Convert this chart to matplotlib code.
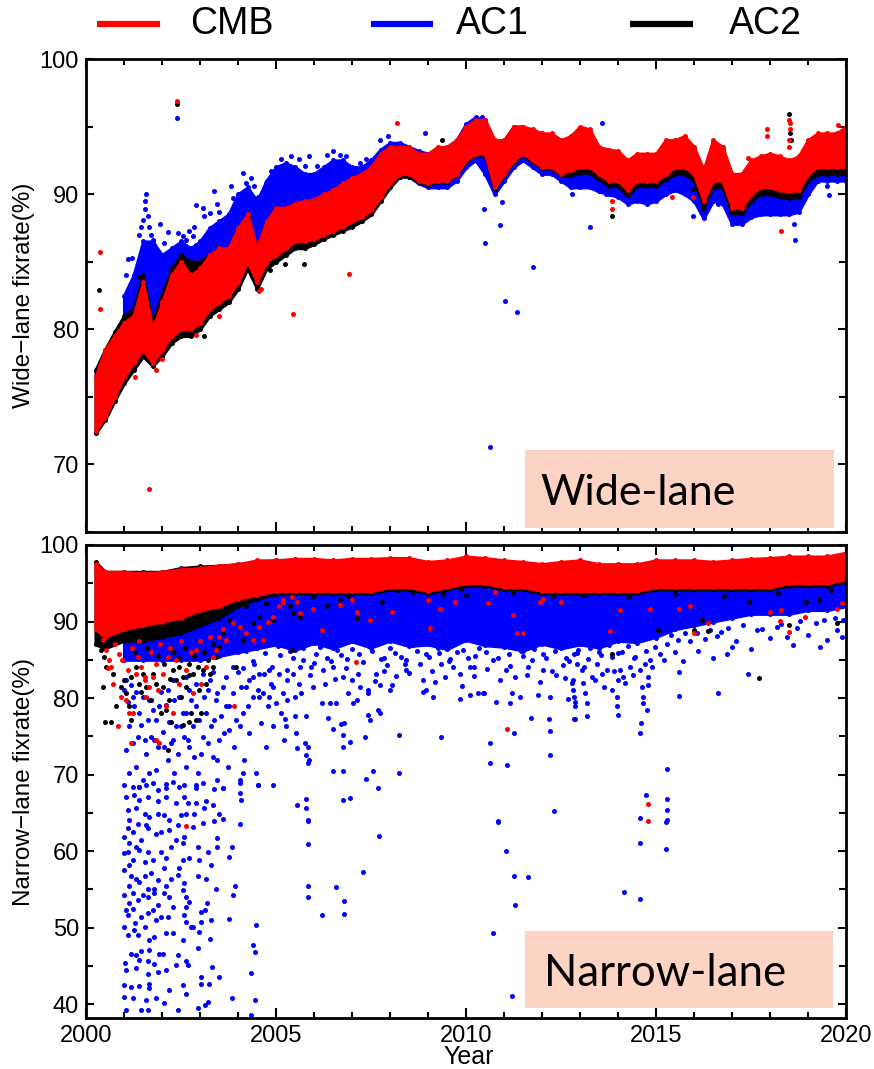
import matplotlib
matplotlib.use("Agg")
import matplotlib.pyplot as plt
from matplotlib.lines import Line2D
from matplotlib.patches import Rectangle
from matplotlib.ticker import MultipleLocator

plt.rcParams['font.family'] = ['Liberation Sans', 'DejaVu Sans']

# ---------------- legend / series ----------------
series_names = ['CMB', 'AC1', 'AC2']
series_colors = ['#ff0000', '#0000ff', '#000000']

# ---------------- Wide-lane: quarterly envelopes of the dense point clouds ----------------
wl_years = [2000.25, 2000.5, 2000.75, 2001.0, 2001.25, 2001.5, 2001.75, 2002.0,
            2002.25, 2002.5, 2002.75, 2003.0, 2003.25, 2003.5, 2003.75, 2004.0,
            2004.25, 2004.5, 2004.75, 2005.0, 2005.25, 2005.5, 2005.75, 2006.0,
            2006.25, 2006.5, 2006.75, 2007.0, 2007.25, 2007.5, 2007.75, 2008.0,
            2008.25, 2008.5, 2008.75, 2009.0, 2009.25, 2009.5, 2009.75, 2010.0,
            2010.25, 2010.5, 2010.75, 2011.0, 2011.25, 2011.5, 2011.75, 2012.0,
            2012.25, 2012.5, 2012.75, 2013.0, 2013.25, 2013.5, 2013.75, 2014.0,
            2014.25, 2014.5, 2014.75, 2015.0, 2015.25, 2015.5, 2015.75, 2016.0,
            2016.25, 2016.5, 2016.75, 2017.0, 2017.25, 2017.5, 2017.75, 2018.0,
            2018.25, 2018.5, 2018.75, 2019.0, 2019.25, 2019.5, 2019.75, 2020.0]

wl_cmb_lo = [72.5, 73.5, 75.0, 76.5, 77.5, 78.5, 77.5, 78.5, 79.5, 80.0, 80.0, 80.5,
             81.5, 82.0, 82.5, 83.5, 85.0, 83.5, 85.0, 85.5, 86.0, 86.5, 86.5, 86.7,
             87.0, 87.3, 87.6, 88.0, 88.3, 88.8, 89.8, 90.8, 91.5, 91.5, 91.0, 90.8,
             91.0, 91.0, 91.5, 92.5, 93.0, 93.0, 90.5, 91.5, 92.5, 93.0, 92.5, 92.0,
             92.0, 91.5, 91.8, 92.0, 92.0, 91.5, 91.0, 91.0, 90.3, 91.0, 91.0, 91.0,
             91.5, 92.0, 92.0, 91.5, 89.5, 91.0, 91.0, 89.0, 89.0, 90.0, 90.5, 90.5,
             90.3, 90.2, 90.3, 91.5, 92.0, 92.0, 92.0, 92.0]
wl_cmb_hi = [76.5, 78.5, 79.5, 80.5, 81.0, 83.5, 80.0, 82.0, 84.0, 85.0, 84.0, 84.5,
             85.5, 86.0, 86.0, 87.5, 88.5, 86.0, 88.0, 89.0, 89.0, 89.3, 89.5, 89.6,
             90.0, 90.3, 90.8, 91.2, 91.5, 92.0, 93.0, 93.5, 93.5, 93.5, 93.0, 93.0,
             93.5, 93.5, 94.0, 95.0, 95.5, 95.5, 94.0, 94.0, 95.0, 95.0, 94.8, 94.5,
             94.5, 94.0, 94.3, 95.0, 94.8, 93.5, 93.3, 93.2, 92.5, 93.0, 93.0, 93.0,
             94.0, 94.0, 94.3, 93.5, 91.8, 94.0, 93.5, 91.5, 91.5, 92.5, 92.8, 93.0,
             92.8, 92.5, 92.8, 94.0, 94.5, 94.5, 94.5, 95.0]

wl_ac2_lo = [72.3, 73.3, 74.7, 76.0, 77.0, 78.0, 77.3, 78.0, 79.0, 79.5, 79.5, 80.0,
             81.0, 81.5, 82.0, 83.0, 84.5, 83.0, 84.5, 85.0, 85.5, 86.0, 86.0, 86.3,
             86.7, 87.0, 87.3, 87.6, 88.0, 88.5, 89.5, 90.5, 91.3, 91.3, 90.9, 90.7,
             90.9, 90.9, 91.4, 92.4, 92.9, 92.8, 90.4, 91.4, 92.4, 92.9, 92.4, 91.9,
             91.9, 91.4, 91.4, 91.6, 91.6, 91.1, 90.6, 90.6, 89.9, 90.6, 90.6, 90.6,
             91.1, 91.5, 91.5, 91.0, 89.1, 90.5, 90.5, 88.6, 88.6, 89.5, 90.0, 90.0,
             89.8, 89.7, 89.8, 91.0, 91.5, 91.5, 91.5, 91.5]
wl_ac2_hi = [77.0, 78.5, 79.8, 81.0, 81.5, 84.0, 80.5, 82.5, 84.5, 85.5, 85.0, 85.0,
             85.5, 86.0, 86.0, 87.5, 88.3, 86.0, 88.0, 88.7, 88.8, 89.0, 89.3, 89.4,
             89.8, 90.1, 90.6, 91.0, 91.3, 91.8, 92.8, 93.3, 93.3, 93.3, 92.8, 92.8,
             93.3, 93.3, 93.8, 94.8, 95.3, 95.3, 93.8, 93.8, 94.8, 94.8, 94.6, 94.3,
             94.3, 93.8, 94.1, 94.8, 94.6, 93.3, 93.1, 93.0, 92.3, 92.8, 92.8, 92.8,
             93.8, 93.8, 94.1, 93.3, 91.6, 93.8, 93.3, 91.3, 91.3, 92.3, 92.6, 92.8,
             92.6, 92.3, 92.6, 93.8, 94.3, 94.3, 94.3, 94.8]

# AC1 starts in 2001 (wl_years[3:])
wl_ac1_lo = [77.0, 78.0, 80.0, 79.5, 80.0, 81.0, 82.0, 82.5, 83.0,
             83.5, 84.0, 85.0, 86.0, 86.0, 85.0, 86.0, 87.0, 87.0, 87.5, 88.0, 88.0,
             88.5, 88.5, 89.0, 89.0, 89.0, 90.0, 90.5, 91.0, 91.3, 91.3, 90.8, 90.5,
             90.5, 90.5, 91.0, 92.0, 92.5, 91.5, 90.0, 91.0, 92.0, 92.5, 92.0, 91.5,
             91.5, 91.0, 90.5, 90.5, 90.5, 90.2, 90.0, 89.8, 89.3, 89.5, 89.3, 89.5,
             90.0, 90.3, 90.0, 89.5, 88.2, 89.5, 89.3, 87.8, 87.8, 88.3, 88.5, 88.5,
             88.5, 88.5, 88.7, 90.0, 91.0, 91.0, 91.0, 91.0]
wl_ac1_hi = [82.5, 84.0, 86.5, 86.5, 85.5, 86.0, 86.5, 86.0, 86.5,
             87.5, 88.0, 88.5, 90.0, 90.5, 89.5, 91.0, 92.0, 92.3, 92.0, 91.5, 91.5,
             92.0, 92.5, 92.5, 92.0, 92.0, 92.5, 93.3, 93.8, 93.8, 93.5, 93.2, 93.0,
             93.3, 93.5, 94.0, 95.2, 95.7, 95.5, 93.5, 94.0, 95.0, 95.0, 94.5, 94.2,
             94.2, 93.8, 93.8, 94.5, 94.0, 93.0, 92.8, 92.8, 92.0, 92.5, 92.5, 92.5,
             93.5, 93.5, 93.5, 93.0, 91.0, 93.5, 93.0, 91.0, 91.5, 92.0, 92.0, 92.2,
             92.0, 92.0, 92.0, 93.0, 93.5, 93.5, 93.5, 94.0]

# Wide-lane isolated points (year, %)
wl_cmb_pts = [(2000.37, 85.7), (2000.37, 81.5), (2001.66, 68.2), (2002.39, 96.9),
              (2005.45, 81.1), (2006.92, 84.1), (2008.18, 95.3), (2013.84, 89.5),
              (2013.84, 88.9), (2015.42, 89.8), (2015.97, 89.8), (2018.29, 87.3),
              (2017.92, 94.8), (2017.92, 94.3), (2017.42, 92.7), (2019.79, 95.1),
              (2018.49, 95.5), (2018.52, 95.3), (2018.52, 94.8), (2018.51, 94.0),
              (2018.49, 93.5), (2003.5, 81.0), (2004.55, 82.8), (2001.3, 76.5),
              (2002.0, 77.8), (2002.9, 79.6), (2004.6, 83.0), (2001.85, 77.0)]
wl_ac2_pts = [(2000.34, 82.9), (2002.39, 96.7), (2005.24, 84.8), (2005.74, 84.8),
              (2009.37, 94.0), (2013.84, 88.4), (2015.97, 90.4), (2016.24, 88.9),
              (2018.49, 95.9), (2018.52, 94.5), (2018.55, 94.0), (2003.1, 79.5),
              (2001.4, 83.9), (2003.05, 84.0), (2003.55, 85.3), (2004.85, 84.4)]
wl_ac1_pts = [(2002.39, 95.6), (2010.47, 88.9), (2010.50, 86.4), (2010.89, 87.7),
              (2010.95, 89.4), (2011.03, 82.1), (2011.34, 81.3), (2011.76, 84.6),
              (2010.63, 71.3), (2013.26, 87.6), (2018.66, 86.6), (2018.64, 87.8),
              (2013.58, 95.3), (2012.80, 90.0), (2013.68, 90.0), (2014.29, 89.4),
              (2015.97, 88.4), (2016.63, 89.3), (2019.55, 89.9), (2019.50, 90.6),
              (2001.24, 81.7), (2001.05, 84.0), (2001.20, 85.3),
              (2001.58, 90.0), (2001.56, 89.5), (2001.54, 88.9), (2001.51, 88.1),
              (2001.45, 87.6), (2001.40, 87.0), (2001.62, 88.4), (2001.67, 87.6),
              (2001.71, 87.0), (2001.75, 86.6), (2001.80, 86.2), (2001.89, 85.4),
              (2001.10, 85.2), (2001.32, 84.3), (2001.27, 83.7), (2002.41, 87.1),
              (2002.54, 86.9), (2002.63, 86.6), (2002.72, 87.3), (2002.81, 86.9),
              (2002.50, 86.2), (2002.85, 87.6), (2002.89, 86.2), (2002.32, 85.7),
              (2002.89, 89.2), (2003.07, 89.0), (2003.11, 88.4), (2003.25, 88.6),
              (2003.38, 90.2), (2003.46, 89.3), (2003.51, 88.7), (2003.60, 88.1),
              (2003.68, 87.6), (2003.82, 90.6), (2003.86, 89.7), (2003.90, 89.1),
              (2003.95, 88.1), (2003.99, 87.4), (2003.73, 87.0), (2004.12, 91.6),
              (2004.21, 90.8), (2004.34, 91.2), (2004.43, 90.6), (2004.52, 89.8),
              (2004.56, 89.6), (2004.74, 90.8), (2004.87, 91.7), (2005.13, 92.6),
              (2005.39, 92.8), (2005.61, 92.6), (2005.75, 92.1), (2005.88, 92.8),
              (2006.07, 92.1), (2006.33, 92.9), (2006.50, 93.2), (2006.68, 92.9),
              (2006.85, 92.8), (2007.21, 92.3), (2007.38, 92.6), (2007.73, 94.0),
              (2007.95, 94.3), (2008.92, 94.5), (2010.41, 95.7), (2001.95, 87.8),
              (2002.05, 86.4), (2002.15, 87.2)]

# ---------------- Narrow-lane: half-year envelopes of the dense clouds ----------------
nl_years = [2000.25, 2000.5, 2001.0, 2001.5, 2002.0, 2002.5, 2003.0, 2003.5,
            2004.0, 2004.5, 2005.0, 2005.5, 2006.0, 2006.5, 2007.0, 2007.5,
            2008.0, 2008.5, 2009.0, 2009.5, 2010.0, 2010.5, 2011.0, 2011.5,
            2012.0, 2012.5, 2013.0, 2013.5, 2014.0, 2014.5, 2015.0, 2015.5,
            2016.0, 2016.5, 2017.0, 2017.5, 2018.0, 2018.5, 2019.0, 2019.5, 2020.0]

nl_cmb_lo = [89.0, 88.0, 89.0, 89.5, 90.0, 90.5, 91.5, 92.0, 93.0, 93.5, 94.0, 94.0,
             94.0, 94.0, 94.0, 94.0, 94.5, 94.5, 94.0, 94.5, 95.0, 95.0, 94.5, 94.5,
             94.0, 94.0, 94.0, 94.0, 94.0, 94.0, 94.5, 94.5, 94.5, 94.5, 94.5, 94.5,
             94.5, 95.0, 95.0, 95.0, 95.5]
nl_cmb_hi = [97.5, 96.5, 96.5, 96.3, 96.5, 96.8, 97.0, 97.3, 97.5, 98.0, 98.0, 98.2,
             98.2, 98.0, 98.2, 98.2, 98.3, 98.3, 97.8, 98.0, 98.5, 98.3, 98.0, 97.8,
             97.5, 97.8, 98.0, 97.5, 97.5, 97.5, 98.0, 98.0, 98.0, 97.8, 98.0, 98.2,
             98.3, 98.5, 98.5, 98.5, 99.0]
nl_ac2_lo = [87.0, 86.5, 87.5, 87.5, 88.0, 88.5, 89.5, 90.5, 92.0, 93.0, 93.6, 93.7,
             93.7, 93.7, 93.7, 93.7, 94.2, 94.2, 93.7, 94.2, 94.7, 94.7, 94.2, 94.2,
             93.7, 93.7, 93.7, 93.7, 93.7, 93.7, 94.2, 94.2, 94.2, 94.2, 94.2, 94.2,
             94.2, 94.7, 94.7, 94.7, 95.2]
nl_ac2_hi = [97.8, 96.5, 96.5, 96.5, 96.5, 97.0, 97.2, 97.3, 97.5, 97.8, 98.0, 98.0,
             98.0, 97.8, 98.0, 98.0, 98.2, 98.2, 97.7, 97.9, 98.3, 98.2, 97.9, 97.7,
             97.4, 97.7, 97.9, 97.4, 97.4, 97.4, 97.9, 97.9, 97.9, 97.7, 97.9, 98.1,
             98.2, 98.4, 98.4, 98.4, 98.8]
# AC1 starts in 2001 (nl_years[2:])
nl_ac1_lo = [85.0, 85.0, 85.0, 85.0, 85.0, 85.5, 86.0, 86.5, 87.0, 86.3,
             87.2, 86.5, 87.4, 86.6, 87.5, 86.8, 87.0, 86.4, 87.6, 86.9, 86.7, 86.2,
             87.1, 86.5, 87.0, 86.6, 87.5, 87.3, 88.0, 89.0, 89.5, 90.0, 90.5, 91.0,
             91.0, 91.0, 91.5, 91.5, 92.0]
nl_ac1_hi = [91.0, 91.0, 92.0, 92.5, 93.0, 93.5, 94.0, 94.0, 94.5, 94.5,
             94.5, 94.5, 94.5, 94.5, 94.5, 94.5, 94.5, 94.5, 94.5, 94.5, 94.5, 94.5,
             94.5, 94.5, 94.5, 95.0, 95.0, 95.0, 95.0, 95.0, 95.0, 95.0, 95.5, 95.5,
             95.5, 96.0, 96.0, 96.0, 96.5]

# Narrow-lane scattered AC1 points (year, %)
nl_ac1_pts_low = [
    (2001.01, 68.6), (2001.23, 68.4), (2001.40, 68.4), (2001.58, 68.6), (2001.75, 68.9),
    (2001.89, 68.0), (2002.11, 68.2), (2002.28, 69.1), (2002.59, 68.6), (2002.89, 68.6),
    (2003.07, 68.9), (2003.38, 68.1), (2003.60, 68.2), (2004.04, 68.9), (2004.52, 68.6),
    (2004.91, 68.6), (2001.05, 67.1), (2001.27, 67.3), (2001.40, 66.7), (2001.62, 67.1),
    (2001.89, 66.5), (2002.11, 67.1), (2002.37, 66.3), (2002.59, 67.1), (2002.68, 66.3),
    (2002.89, 66.3), (2003.16, 66.5), (2003.33, 66.0), (2004.08, 66.7), (2004.05, 67.6),
    (2001.10, 65.4), (2001.32, 65.6), (2001.54, 64.9), (2001.67, 64.5), (2001.89, 64.9),
    (2002.06, 64.7), (2002.19, 64.1), (2002.50, 64.7), (2002.63, 64.9), (2002.85, 64.9),
    (2003.11, 65.6), (2003.51, 64.9), (2003.60, 64.2), (2003.38, 63.9), (2003.07, 63.7),
    (2004.06, 63.6), (2002.41, 63.4), (2002.81, 63.2), (2001.14, 64.1), (2001.36, 63.6),
    (2001.58, 63.4), (2001.01, 61.9), (2001.10, 63.0), (2001.23, 62.5), (2001.45, 61.5),
    (2001.62, 63.0), (2001.84, 62.3), (2001.97, 62.5), (2002.19, 62.8), (2002.37, 61.5),
    (2002.59, 61.9), (2002.54, 61.0), (2002.94, 60.6), (2003.20, 59.9), (2003.46, 61.7),
    (2003.46, 60.6), (2003.84, 60.6), (2001.14, 61.0), (2001.32, 60.6), (2001.01, 59.7),
    (2001.10, 59.9), (2001.23, 58.8), (2001.40, 60.1), (2001.62, 59.9), (2001.75, 58.8),
    (2001.97, 59.9), (2002.11, 59.1), (2002.24, 60.6), (2002.54, 58.8), (2002.72, 59.1),
    (2002.98, 58.8), (2003.29, 58.2), (2003.77, 59.2), (2001.14, 58.2), (2001.54, 58.6),
    (2002.06, 57.8), (2002.46, 57.8), (2001.01, 57.5), (2001.18, 56.7), (2001.32, 56.4),
    (2001.54, 56.7), (2001.71, 57.1), (2001.89, 56.2), (2002.11, 55.4), (2002.24, 56.4),
    (2002.41, 56.9), (2002.59, 55.8), (2002.94, 56.7), (2003.16, 56.4), (2003.42, 55.1),
    (2003.92, 55.4), (2001.14, 55.4), (2001.40, 56.0), (2001.62, 55.1), (2001.80, 55.1),
    (2001.01, 54.3), (2001.23, 54.5), (2001.49, 54.3), (2001.62, 54.0), (2001.80, 54.5),
    (2002.06, 54.5), (2002.19, 54.0), (2002.54, 54.9), (2002.63, 54.0), (2002.72, 53.4),
    (2003.18, 53.2), (2003.86, 54.3), (2001.14, 53.2), (2001.36, 53.6), (2001.89, 53.0),
    (2002.63, 52.7), (2001.05, 52.3), (2001.23, 52.5), (2001.45, 51.4), (2001.62, 51.9),
    (2001.75, 52.3), (2001.97, 51.4), (2002.15, 51.4), (2002.28, 52.7), (2002.59, 51.7),
    (2003.03, 52.1), (2003.14, 52.3), (2003.29, 51.0), (2003.75, 51.2), (2001.10, 51.7),
    (2001.30, 50.6), (2001.84, 51.0), (2002.76, 50.1), (2002.63, 50.8), (2003.03, 50.8),
    (2001.01, 50.1), (2001.10, 49.0), (2001.27, 49.7), (2001.36, 49.0), (2001.54, 50.1),
    (2001.67, 48.4), (2001.80, 48.8), (2002.11, 49.3), (2002.28, 49.3), (2002.54, 48.4),
    (2002.81, 50.1), (2004.39, 47.7), (2004.47, 50.4), (2003.25, 48.5), (2002.98, 49.5),
    (2001.18, 46.6), (2001.32, 46.4), (2001.45, 46.9), (2001.67, 47.1), (2001.93, 46.6),
    (2002.02, 46.6), (2002.41, 46.4), (2002.63, 45.6), (2002.94, 47.3), (2001.03, 45.4),
    (2001.40, 45.8), (2001.62, 45.6), (2001.80, 45.3), (2002.68, 45.1), (2003.32, 44.9),
    (2004.46, 46.8), (2001.05, 44.5), (2001.32, 44.7), (2001.62, 44.0), (2001.89, 44.2),
    (2002.11, 44.5), (2002.37, 45.1), (2003.03, 43.6), (2003.51, 43.6), (2000.99, 42.5),
    (2001.18, 42.3), (2001.40, 42.4), (2001.67, 42.7), (2002.54, 42.5), (2003.03, 42.7),
    (2003.23, 42.7), (2004.34, 44.1), (2001.67, 42.1), (2002.19, 41.8), (2002.63, 41.4),
    (2001.01, 40.9), (2001.23, 40.8), (2001.58, 40.6), (2001.84, 40.8), (2002.04, 40.1),
    (2003.20, 40.3), (2003.84, 40.8), (2004.46, 40.5), (2001.04, 39.2), (2001.45, 39.2),
    (2001.62, 39.2), (2002.41, 39.2), (2002.94, 39.5), (2003.14, 39.9), (2004.34, 38.6)]

nl_ac1_pts_mid = [
    (2001.10, 79.5), (2001.14, 76.3), (2001.23, 80.2), (2001.32, 80.8), (2001.40, 78.0),
    (2001.45, 76.5), (2001.54, 74.5), (2001.58, 72.7), (2001.71, 74.9), (2001.75, 78.4),
    (2001.84, 77.1), (2001.89, 73.6), (2002.02, 75.6), (2002.11, 79.1), (2002.15, 71.9),
    (2002.19, 76.9), (2002.24, 74.1), (2002.32, 70.2), (2002.37, 76.3), (2002.41, 72.7),
    (2002.46, 80.2), (2002.54, 78.0), (2002.59, 74.9), (2002.63, 71.0), (2002.72, 81.0),
    (2002.72, 73.6), (2002.81, 76.3), (2002.89, 78.9), (2002.94, 70.2), (2003.03, 72.7),
    (2003.07, 74.9), (2003.16, 78.0), (2003.20, 81.0), (2003.25, 82.3), (2003.29, 76.3),
    (2003.33, 72.3), (2003.42, 79.7), (2003.46, 69.3), (2003.51, 74.5), (2003.55, 77.6),
    (2003.60, 81.5), (2003.68, 78.9), (2003.73, 71.0), (2003.77, 75.8), (2003.86, 80.6),
    (2003.90, 73.6), (2003.99, 83.4), (2004.04, 76.3), (2004.12, 78.0), (2004.17, 71.9),
    (2004.21, 81.5), (2004.30, 75.4), (2004.39, 80.2), (2004.47, 70.2), (2004.56, 83.2),
    (2004.61, 76.7), (2004.65, 80.6), (2004.74, 73.6), (2004.78, 78.9), (2004.87, 81.9),
    (2004.91, 76.3), (2005.00, 79.3), (2005.09, 83.2), (2005.18, 80.6), (2005.22, 74.5),
    (2001.05, 73.2), (2001.14, 70.2), (2001.32, 71.0), (2001.49, 69.3), (2001.67, 70.2),
    (2001.84, 70.6), (2001.40, 68.4), (2002.11, 68.8), (2002.46, 68.4), (2002.89, 68.2),
    (2003.46, 71.9), (2003.60, 68.2), (2004.04, 69.3), (2004.52, 68.6), (2004.12, 70.2),
    (2001.23, 74.1), (2001.97, 80.8), (2002.28, 82.3), (2002.63, 82.8), (2003.07, 83.2),
    (2003.68, 82.8), (2003.33, 83.4), (2002.89, 81.9), (2004.30, 82.3), (2004.56, 80.2),
    (2004.91, 81.5), (2005.13, 78.0), (2004.82, 83.7), (2004.43, 84.5), (2004.12, 83.9),
    (2003.86, 84.1), (2001.01, 81.0), (2001.05, 82.3), (2001.18, 81.7), (2001.27, 78.9),
    (2001.36, 74.9), (2001.49, 80.2), (2001.62, 77.1), (2001.67, 79.7), (2001.80, 74.5),
    (2001.93, 78.9), (2002.06, 73.6), (2002.15, 81.0), (2002.28, 74.5), (2002.32, 79.7),
    (2002.50, 76.3), (2002.63, 78.0), (2002.68, 74.5), (2002.76, 79.7), (2002.85, 72.3),
    (2002.98, 77.1), (2003.11, 80.2), (2003.20, 74.1), (2003.38, 77.1), (2003.46, 80.6),
    (2003.64, 75.4), (2003.77, 78.9), (2003.95, 77.1), (2004.08, 81.5), (2004.25, 78.9),
    (2004.39, 82.8), (2004.52, 81.0), (2004.69, 83.2), (2004.82, 80.2)]

nl_ac1_pts_late = [
    (2005.23, 77.3), (2005.25, 76.3), (2005.51, 77.7), (2005.52, 75.4), (2005.54, 73.5),
    (2005.76, 74.1), (2005.78, 77.7), (2005.80, 72.6), (2005.83, 73.6), (2005.85, 71.5),
    (2005.86, 71.9), (2005.54, 66.0), (2005.80, 66.8), (2005.80, 65.6), (2005.83, 64.1),
    (2006.37, 77.4), (2006.50, 75.9), (2006.71, 76.6), (2006.79, 76.8), (2006.75, 75.2),
    (2006.96, 74.3), (2006.77, 73.6), (2006.50, 70.5), (2006.77, 70.5), (2006.77, 66.7),
    (2006.94, 66.9), (2007.36, 69.4), (2007.54, 70.5), (2007.69, 68.2), (2008.23, 70.2),
    (2007.35, 74.9), (2007.42, 77.8), (2007.47, 77.2), (2007.69, 78.4), (2007.73, 78.1),
    (2008.24, 75.2), (2009.35, 74.9), (2010.63, 74.1), (2010.63, 71.5), (2011.08, 71.2),
    (2011.27, 75.4), (2010.84, 64.0), (2012.31, 65.3), (2012.21, 72.5), (2012.21, 75.7),
    (2012.19, 77.3), (2011.70, 77.4),
    (2005.28, 83.7), (2005.45, 83.2), (2005.63, 84.1), (2005.93, 84.1), (2006.24, 83.7),
    (2006.50, 84.1), (2006.77, 82.8), (2006.99, 82.4), (2007.21, 81.5), (2007.42, 81.0),
    (2007.64, 83.2), (2007.91, 84.3), (2008.04, 81.7), (2008.39, 84.5), (2008.43, 83.7),
    (2008.87, 82.4), (2008.96, 81.0), (2009.18, 82.1), (2009.35, 84.5), (2009.66, 84.1),
    (2009.84, 83.2), (2009.84, 79.9), (2010.10, 84.1), (2010.21, 84.1), (2010.32, 80.7),
    (2010.47, 80.7), (2010.80, 79.5), (2011.06, 83.7), (2011.20, 80.6), (2011.42, 80.2),
    (2011.64, 84.1), (2011.90, 80.4), (2012.03, 83.7), (2012.21, 80.2), (2012.38, 83.0),
    (2012.56, 84.3), (2012.82, 82.4), (2012.86, 79.5), (2012.86, 77.3), (2005.28, 79.7),
    (2005.49, 80.2), (2005.67, 80.6), (2005.98, 81.5), (2006.20, 79.3), (2006.42, 79.3),
    (2006.59, 79.3), (2006.90, 80.6), (2007.03, 79.3), (2007.12, 79.7), (2007.42, 80.6),
    (2007.73, 81.7), (2007.99, 81.0), (2008.87, 80.8), (2009.14, 80.2), (2010.10, 80.4),
    (2010.45, 80.6), (2011.15, 79.3), (2012.69, 79.9), (2012.82, 81.0),
    (2005.10, 85.6), (2005.37, 86.1), (2005.72, 85.0), (2006.05, 85.8), (2006.33, 85.2),
    (2006.61, 86.3), (2006.88, 85.1), (2007.18, 85.7), (2007.52, 86.2), (2007.83, 85.3),
    (2008.12, 85.9), (2008.41, 85.0), (2008.70, 86.2), (2009.02, 85.4), (2009.28, 85.9),
    (2009.57, 85.1), (2009.93, 86.3), (2010.24, 85.5), (2010.52, 86.0), (2010.83, 85.2),
    (2011.12, 85.8), (2011.44, 86.2), (2011.73, 85.0), (2012.02, 85.7), (2012.33, 86.1),
    (2012.63, 85.3), (2012.92, 85.9), (2013.22, 85.1), (2013.51, 86.0), (2013.83, 85.4),
    (2014.11, 86.0), (2014.42, 85.2), (2014.73, 86.2),
    (2004.20, 86.2), (2004.40, 84.8), (2004.70, 85.9), (2004.90, 84.0), (2005.05, 86.8),
    (2005.30, 82.4), (2005.45, 85.3), (2005.60, 81.9), (2005.70, 86.5), (2005.90, 83.0),
    (2006.00, 84.6), (2006.15, 86.7), (2006.30, 81.8), (2006.45, 84.9), (2006.55, 82.5),
    (2006.70, 85.6), (2006.85, 83.9), (2007.00, 86.4), (2007.15, 83.1), (2007.30, 84.7),
    (2007.45, 86.8), (2007.60, 82.2), (2007.75, 85.1), (2007.85, 83.6), (2008.00, 86.6),
    (2008.15, 82.9), (2008.30, 85.4), (2008.50, 83.3), (2008.60, 86.9), (2008.80, 84.4),
    (2008.95, 85.7), (2009.10, 83.5), (2009.25, 86.5), (2009.45, 82.7), (2009.55, 84.9),
    (2009.75, 86.0), (2009.90, 81.6), (2010.05, 85.2), (2010.20, 82.9), (2010.35, 86.6),
    (2010.55, 83.8), (2010.70, 85.0), (2010.90, 82.3), (2011.00, 86.9), (2011.15, 84.2),
    (2011.30, 82.8), (2011.50, 85.5), (2011.60, 83.0), (2011.80, 86.4), (2011.95, 82.1),
    (2012.10, 85.3), (2012.25, 83.6), (2012.45, 86.7), (2012.60, 82.6), (2012.70, 84.8),
    (2012.95, 86.3), (2013.10, 84.1), (2013.25, 86.6), (2013.40, 82.3), (2013.55, 85.6),
    (2013.75, 86.9), (2013.90, 83.6), (2014.00, 85.9), (2014.25, 86.8), (2014.40, 83.0),
    (2014.50, 87.2), (2014.90, 84.0), (2015.00, 87.8), (2015.20, 85.0), (2015.40, 88.2),
    (2015.50, 86.0), (2015.70, 84.9), (2015.90, 87.4), (2016.10, 86.1), (2016.30, 87.7),
    (2016.50, 85.3), (2016.70, 88.6), (2016.90, 89.2), (2017.10, 87.5), (2017.30, 89.6),
    (2017.50, 86.4), (2017.80, 89.0), (2018.00, 87.9), (2018.30, 89.7), (2018.60, 86.9),
    (2018.80, 90.1), (2019.00, 88.2), (2019.20, 89.8), (2019.50, 87.6), (2019.70, 90.4),
    (2019.90, 88.0),
    (2012.74, 87.6), (2012.83, 85.8), (2012.92, 84.5), (2013.05, 83.7), (2012.78, 82.0),
    (2012.83, 80.2), (2012.87, 78.9), (2012.85, 77.3), (2013.09, 82.0), (2013.13, 80.6),
    (2013.18, 79.3), (2013.18, 77.6), (2013.31, 82.8), (2013.44, 84.5), (2013.57, 83.2),
    (2013.62, 81.5), (2013.70, 83.7), (2013.84, 81.0), (2013.97, 80.2), (2013.97, 78.9),
    (2013.99, 77.8), (2014.01, 82.4), (2014.06, 83.7), (2014.14, 82.8), (2014.19, 82.0),
    (2014.32, 84.1), (2014.45, 85.4), (2014.58, 83.7), (2014.63, 81.5), (2014.65, 80.2),
    (2014.67, 79.3), (2014.76, 78.4), (2014.78, 81.7), (2014.80, 82.8), (2014.71, 84.5),
    (2014.61, 76.8), (2014.58, 75.4), (2014.85, 85.0), (2014.98, 86.7), (2015.11, 85.8),
    (2015.28, 87.1), (2015.59, 87.6), (2015.61, 83.4), (2015.61, 80.3), (2015.77, 88.5),
    (2016.07, 88.5), (2016.42, 88.9), (2016.60, 88.1), (2016.63, 80.7), (2016.86, 85.8),
    (2016.99, 86.7), (2017.42, 83.1), (2017.65, 88.9), (2018.18, 89.3), (2018.44, 88.0),
    (2018.70, 89.1), (2019.32, 86.7), (2019.41, 90.2), (2019.76, 88.9), (2019.93, 90.2),
    (2015.28, 70.7), (2015.28, 66.8), (2015.28, 65.4), (2015.28, 64.1), (2014.74, 67.3),
    (2014.58, 64.3), (2014.16, 54.6), (2014.58, 53.7), (2014.58, 61.0), (2015.27, 63.8),
    (2015.27, 60.3), (2010.72, 49.3), (2011.05, 60.0), (2011.27, 56.7), (2011.62, 56.6),
    (2011.30, 53.0), (2011.20, 41.1), (2010.84, 63.8), (2007.70, 62.0), (2007.30, 57.3),
    (2005.85, 55.4), (2005.85, 54.0), (2005.85, 60.9), (2005.85, 64.0), (2006.58, 55.3),
    (2006.20, 51.6), (2006.80, 53.5), (2006.80, 51.8)]

nl_ac2_pts = [
    (2000.35, 87.6), (2000.39, 86.3), (2000.48, 85.4), (2000.53, 84.1), (2000.70, 83.2),
    (2000.79, 78.9), (2000.66, 76.9), (2000.92, 81.5), (2001.05, 80.6), (2001.14, 78.9),
    (2001.18, 77.1), (2001.32, 84.1), (2001.40, 81.9), (2001.49, 83.2), (2001.58, 81.5),
    (2001.71, 79.7), (2001.75, 83.2), (2001.84, 81.9), (2002.02, 81.5), (2002.11, 78.4),
    (2002.15, 73.2), (2002.19, 79.7), (2002.28, 83.7), (2002.37, 82.3), (2002.46, 84.1),
    (2002.50, 80.2), (2002.54, 82.8), (2002.63, 81.5), (2002.72, 84.5), (2002.76, 78.0),
    (2002.81, 83.2), (2002.89, 77.1), (2002.98, 81.0), (2003.03, 78.0), (2003.07, 83.7),
    (2003.16, 81.9), (2003.25, 83.2), (2003.33, 84.1), (2003.42, 85.4), (2003.51, 86.7),
    (2003.60, 88.5), (2003.77, 90.2), (2003.95, 84.1), (2004.12, 87.6), (2004.21, 92.0),
    (2004.39, 89.8), (2004.56, 90.6), (2004.74, 92.4), (2004.91, 90.2), (2001.18, 82.8),
    (2001.01, 82.3), (2001.45, 80.8), (2001.97, 78.0), (2002.24, 76.9), (2002.54, 76.5),
    (2002.72, 76.9), (2000.88, 87.6), (2000.70, 88.9), (2002.30, 86.0), (2002.45, 85.2),
    (2002.60, 86.5), (2002.70, 83.0), (2002.85, 85.5), (2002.95, 84.0), (2003.10, 86.0),
    (2003.20, 85.0), (2003.35, 87.0), (2002.20, 82.5), (2002.05, 84.5), (2001.90, 85.5),
    (2001.60, 86.5), (2001.30, 86.0), (2000.45, 81.4), (2000.50, 76.9),
    (2005.41, 86.3), (2005.36, 92.0), (2005.45, 91.1), (2005.63, 90.6), (2005.98, 93.2),
    (2006.33, 92.0), (2006.68, 92.8), (2007.12, 90.4), (2007.78, 92.5), (2008.21, 94.1),
    (2009.88, 94.3), (2010.01, 93.5), (2011.24, 93.7), (2011.42, 94.6), (2013.84, 85.8),
    (2015.06, 88.9), (2016.00, 88.9), (2016.20, 90.2), (2016.38, 88.7), (2017.70, 82.6),
    (2018.49, 89.5), (2019.76, 89.8), (2017.45, 92.5), (2018.95, 92.6), (2019.30, 92.8),
    (2006.9, 93.4), (2008.6, 93.8), (2009.4, 93.6), (2012.3, 93.3), (2013.1, 93.5),
    (2014.3, 93.2), (2015.5, 93.6), (2016.8, 93.4), (2018.2, 93.7), (2019.6, 94.1)]

nl_cmb_pts = [
    (2000.35, 88.9), (2000.44, 87.6), (2000.53, 86.3), (2000.61, 85.0), (2000.66, 84.1),
    (2000.39, 90.2), (2000.57, 83.9), (2000.70, 81.9), (2000.83, 76.3), (2000.92, 80.2),
    (2001.05, 79.7), (2001.14, 78.0), (2001.23, 78.0), (2001.18, 74.1), (2001.32, 83.2),
    (2001.36, 85.4), (2001.45, 84.1), (2001.54, 82.3), (2001.58, 80.2), (2001.67, 81.5),
    (2001.75, 82.8), (2001.84, 84.5), (2001.89, 81.0), (2002.02, 83.2), (2002.11, 78.9),
    (2002.15, 85.4), (2002.28, 78.0), (2002.37, 85.0), (2002.46, 81.9), (2002.63, 83.7),
    (2002.81, 80.6), (2002.89, 86.3), (2003.03, 81.9), (2003.16, 84.1), (2003.33, 85.4),
    (2003.42, 86.3), (2003.51, 88.0), (2003.68, 87.6), (2003.90, 78.9), (2003.86, 89.8),
    (2004.04, 89.3), (2004.21, 88.5), (2004.39, 87.6), (2004.56, 89.3), (2004.65, 87.6),
    (2004.78, 90.0), (2004.91, 90.6), (2005.09, 92.0), (2005.18, 92.8), (2001.84, 74.5),
    (2001.93, 74.1), (2001.54, 82.8), (2001.10, 83.7), (2000.96, 85.0), (2000.88, 85.8),
    (2000.50, 88.5), (2000.75, 87.0), (2001.20, 86.5), (2001.40, 87.5), (2001.70, 86.0),
    (2001.95, 87.0), (2002.20, 86.5), (2002.50, 87.5), (2002.75, 86.0), (2003.00, 87.5),
    (2003.25, 88.0), (2003.60, 89.0), (2002.63, 63.3),
    (2005.19, 92.6), (2005.41, 93.2), (2005.54, 92.6), (2005.63, 91.1), (2005.98, 91.7),
    (2006.20, 88.9), (2006.68, 92.2), (2006.99, 92.8), (2007.12, 91.3), (2007.47, 90.2),
    (2008.04, 91.3), (2009.00, 92.8), (2009.05, 89.1), (2009.31, 91.7), (2009.71, 92.6),
    (2010.58, 92.4), (2010.76, 93.9), (2011.24, 90.8), (2011.33, 88.5), (2011.50, 88.5),
    (2011.94, 92.6), (2012.03, 93.0), (2012.51, 92.6), (2007.10, 84.7), (2011.09, 75.9),
    (2014.78, 66.2), (2014.78, 64.0), (2013.79, 88.7), (2014.06, 91.5), (2014.85, 91.7),
    (2015.61, 91.7), (2015.90, 92.0), (2016.00, 88.5), (2016.38, 89.8), (2018.00, 91.3),
    (2018.29, 91.5), (2018.27, 90.1), (2018.49, 88.6), (2018.91, 90.6), (2019.76, 91.6),
    (2019.89, 92.4)]

# ---------------- figure ----------------
W, H = 874, 1069
fig = plt.figure(figsize=(W / 100, H / 100), dpi=100)
ax_wl = fig.add_axes([86 / W, 1 - 532 / H, 760 / W, 473 / H])
ax_nl = fig.add_axes([86 / W, 1 - 1018 / H, 760 / W, 473 / H])

MS = 3.6


def draw_band(ax, yrs, lo, hi, color, z):
    ax.fill_between(yrs, lo, hi, facecolor=color, edgecolor=color,
                    linewidth=2.2, zorder=z)
    ax.plot(yrs, lo, ls='none', marker='o', ms=MS, mew=0, color=color, zorder=z)
    ax.plot(yrs, hi, ls='none', marker='o', ms=MS, mew=0, color=color, zorder=z)


def draw_pts(ax, pts, color, z):
    xs = [p[0] for p in pts]
    ys = [p[1] for p in pts]
    ax.plot(xs, ys, ls='none', marker='o', ms=MS, mew=0, color=color, zorder=z)


c_cmb, c_ac1, c_ac2 = series_colors

# wide-lane
draw_band(ax_wl, wl_years[3:], wl_ac1_lo, wl_ac1_hi, c_ac1, 2)
draw_pts(ax_wl, wl_ac1_pts, c_ac1, 2.1)
draw_band(ax_wl, wl_years, wl_ac2_lo, wl_ac2_hi, c_ac2, 3)
draw_pts(ax_wl, wl_ac2_pts, c_ac2, 3.1)
draw_band(ax_wl, wl_years, wl_cmb_lo, wl_cmb_hi, c_cmb, 4)
draw_pts(ax_wl, wl_cmb_pts, c_cmb, 4.1)

# narrow-lane
draw_band(ax_nl, nl_years[2:], nl_ac1_lo, nl_ac1_hi, c_ac1, 2)
draw_pts(ax_nl, nl_ac1_pts_low + nl_ac1_pts_mid + nl_ac1_pts_late, c_ac1, 2.1)
draw_band(ax_nl, nl_years, nl_ac2_lo, nl_ac2_hi, c_ac2, 3)
draw_pts(ax_nl, nl_ac2_pts, c_ac2, 3.1)
draw_band(ax_nl, nl_years, nl_cmb_lo, nl_cmb_hi, c_cmb, 4)
draw_pts(ax_nl, nl_cmb_pts, c_cmb, 4.1)

for ax in (ax_wl, ax_nl):
    ax.set_xlim(2000, 2020)
    ax.xaxis.set_major_locator(MultipleLocator(5))
    ax.xaxis.set_minor_locator(MultipleLocator(1))
    ax.yaxis.set_major_locator(MultipleLocator(10))
    ax.yaxis.set_minor_locator(MultipleLocator(5))
    ax.tick_params(which='both', direction='in', top=True, right=True,
                   width=1.5, labelsize=17, pad=5)
    ax.tick_params(axis='x', which='major', length=7)
    ax.tick_params(axis='x', which='minor', length=4)
    ax.tick_params(axis='y', which='major', length=6)
    ax.tick_params(axis='y', which='minor', length=5)
    for s in ax.spines.values():
        s.set_linewidth(2.0)
        s.set_zorder(10)

ax_wl.set_ylim(65, 100)
ax_nl.set_ylim(38.2, 100)
ax_wl.tick_params(labelbottom=False)

ax_wl.set_ylabel('Wide\u2212lane fixrate(%)', fontsize=17.5)
ax_nl.set_ylabel('Narrow\u2212lane fixrate(%)', fontsize=17.5)
ax_wl.yaxis.set_label_coords(-0.067, 0.5)
ax_nl.yaxis.set_label_coords(-0.067, 0.5)
ax_nl.set_xlabel('Year', fontsize=18, labelpad=0)
ax_nl.xaxis.set_label_coords(0.503, -0.058)

# panel tags
box_color = '#fdd3c4'
ax_wl.add_patch(Rectangle((0.578, 0.0085), 0.406, 0.165, transform=ax_wl.transAxes,
                          facecolor=box_color, edgecolor='none', zorder=6))
ax_wl.text(0.598, 0.057, 'Wide-lane', transform=ax_wl.transAxes, fontsize=31,
           family=['Lato', 'DejaVu Sans'], va='baseline', ha='left', zorder=7)
ax_nl.add_patch(Rectangle((0.578, 0.021), 0.405, 0.163, transform=ax_nl.transAxes,
                          facecolor=box_color, edgecolor='none', zorder=6))
ax_nl.text(0.602, 0.068, 'Narrow-lane', transform=ax_nl.transAxes, fontsize=31.5,
           family=['Lato', 'DejaVu Sans'], va='baseline', ha='left', zorder=7)

# legend across the top
leg_y = 1 - 24 / H
leg_lines = [(97, 160, 190), (371, 433, 456), (630, 693, 729)]
for (x0, x1, xt), name, col in zip(leg_lines, series_names, series_colors):
    fig.add_artist(Line2D([x0 / W, x1 / W], [leg_y, leg_y], transform=fig.transFigure,
                          color=col, linewidth=4.5, solid_capstyle='butt'))
    fig.text(xt / W, leg_y, name, fontsize=27, va='center', ha='left')

fig.savefig('out.png', dpi=100)
